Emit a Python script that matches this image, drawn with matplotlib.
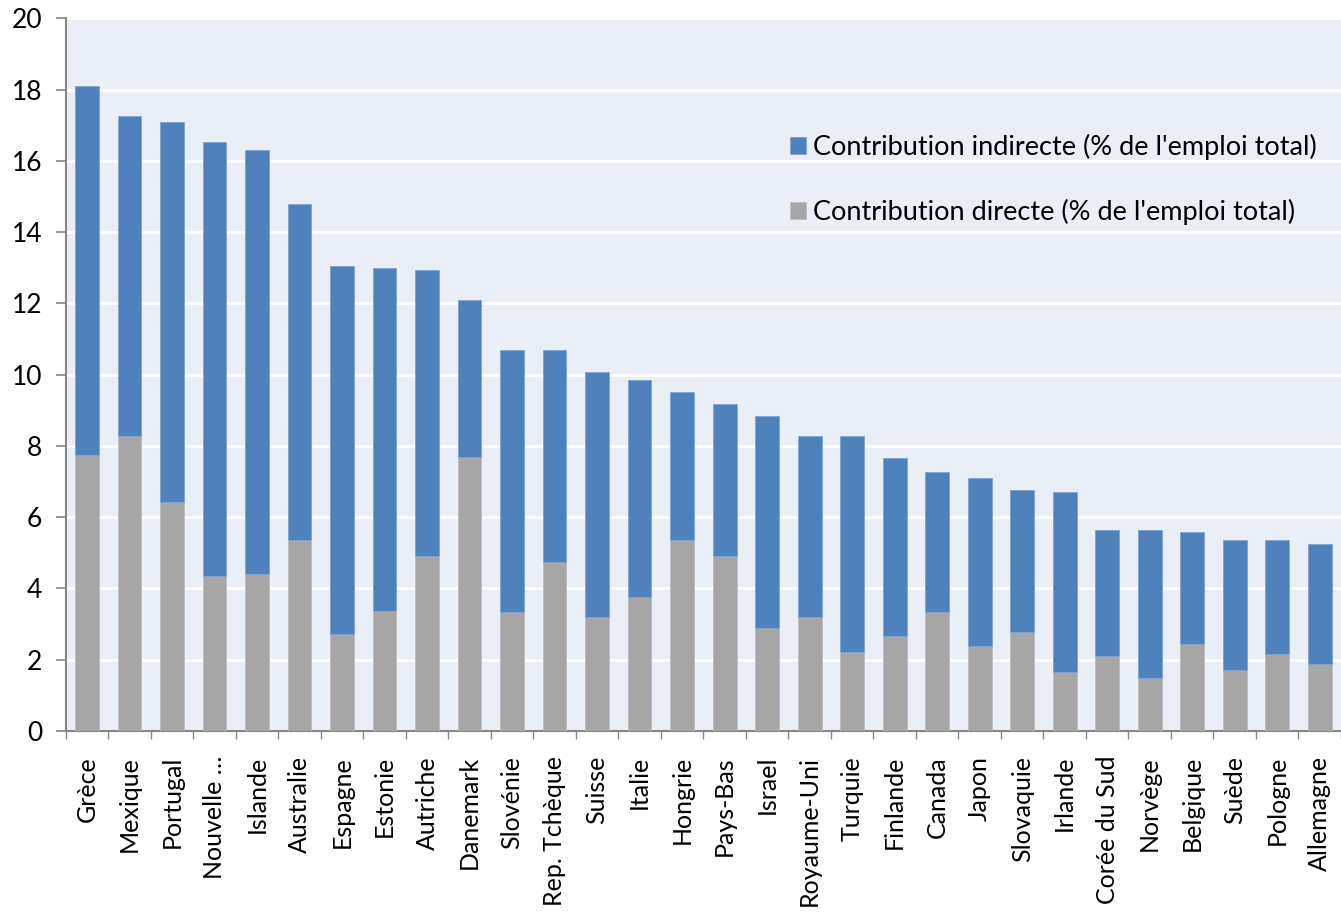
import matplotlib
matplotlib.use("Agg")
import matplotlib.pyplot as plt
import numpy as np

# pays, classés par contribution totale
pays = ["Grèce", "Mexique", "Portugal", "Nouvelle …", "Islande", "Australie",
        "Espagne", "Estonie", "Autriche", "Danemark", "Slovénie", "Rep. Tchèque",
        "Suisse", "Italie", "Hongrie", "Pays-Bas", "Israel", "Royaume-Uni",
        "Turquie", "Finlande", "Canada", "Japon", "Slovaquie", "Irlande",
        "Corée du Sud", "Norvège", "Belgique", "Suède", "Pologne", "Allemagne"]

# contribution totale (directe + indirecte), % de l'emploi total
total = [18.09, 17.25, 17.08, 16.52, 16.30, 14.78, 13.04, 12.99, 12.93, 12.09,
         10.69, 10.69, 10.07, 9.85, 9.51, 9.17, 8.84, 8.27, 8.27, 7.66,
         7.27, 7.10, 6.76, 6.70, 5.64, 5.64, 5.58, 5.36, 5.36, 5.25]

# contribution directe
directe = [7.74, 8.27, 6.42, 4.35, 4.40, 5.36, 2.72, 3.37, 4.91, 7.69,
           3.34, 4.74, 3.20, 3.76, 5.36, 4.91, 2.89, 3.20, 2.22, 2.66,
           3.34, 2.38, 2.78, 1.65, 2.10, 1.49, 2.44, 1.71, 2.16, 1.88]

indirecte = [t - d for t, d in zip(total, directe)]

plt.rcParams['font.family'] = ['Lato', 'DejaVu Sans']

fig = plt.figure(figsize=(13.41, 9.16), dpi=100)
ax = fig.add_axes([0.049, 0.202, 0.951, 0.778])
ax.set_facecolor('#EAEFF7')

x = np.arange(len(pays))
ax.bar(x, directe, width=0.56, color='#A6A6A6', edgecolor='#BFBFBF', linewidth=0.6,
       label="Contribution directe (% de l'emploi total)", zorder=3)
ax.bar(x, indirecte, width=0.56, bottom=directe, color='#4F81BD', edgecolor='#7FA3D0',
       linewidth=0.6, label="Contribution indirecte (% de l'emploi total)", zorder=3)

ax.set_ylim(0, 20)
ax.set_xlim(-0.5, len(pays) - 0.5)
ax.set_yticks(range(0, 21, 2))
ax.yaxis.grid(True, color='white', linewidth=2, zorder=0)
ax.set_axisbelow(True)

ax.set_xticks(x)
ax.set_xticklabels(pays, rotation=90, fontsize=18)
ax.set_xticks(np.arange(-0.5, len(pays)), minor=True)
ax.tick_params(axis='x', which='major', length=0, pad=18)
ax.tick_params(axis='x', which='minor', length=6, color='#868686', width=1)
ax.tick_params(axis='y', labelsize=19, length=7, color='#868686', width=1.2, pad=10)

for s in ['top', 'right']:
    ax.spines[s].set_visible(False)
for s in ['left', 'bottom']:
    ax.spines[s].set_color('#868686')
    ax.spines[s].set_linewidth(1.5)

h, l = ax.get_legend_handles_labels()
leg = ax.legend(h[::-1], l[::-1], loc='upper right', bbox_to_anchor=(1.0, 0.872),
                frameon=False, fontsize=19.5, handlelength=0.6, handleheight=0.6,
                handletextpad=0.25, labelspacing=1.45)

fig.savefig('out.png', dpi=100)
